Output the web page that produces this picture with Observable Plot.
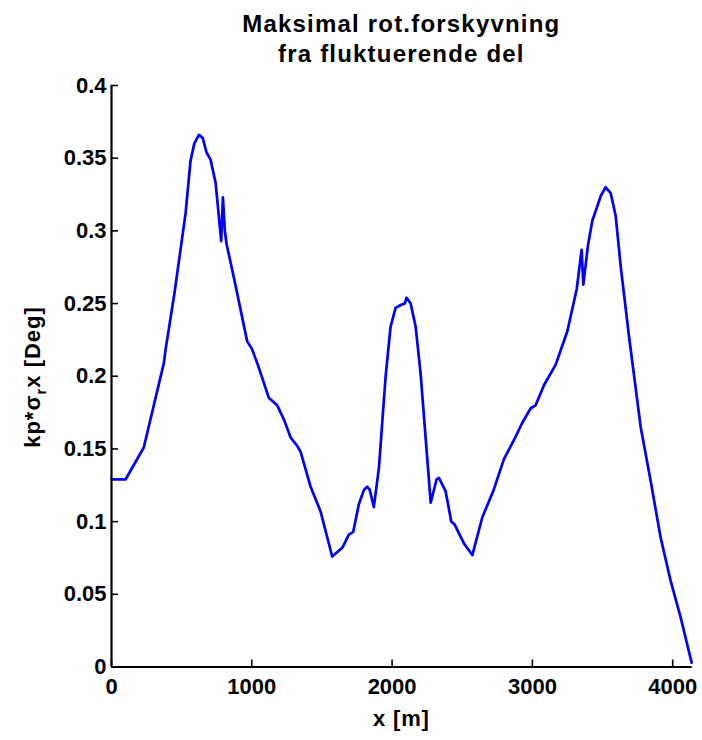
<!DOCTYPE html>
<html>
<head>
<meta charset="utf-8">
<script src="https://cdn.jsdelivr.net/npm/d3@7"></script>
<script src="https://cdn.jsdelivr.net/npm/@observablehq/plot@0.6"></script>
<style>
  html, body { margin: 0; padding: 0; background: #fff; }
  svg { display: block; }
</style>
</head>
<body>
<div id="chart"></div>
<script>
const titleLines = ["Maksimal rot.forskyvning", "fra fluktuerende del"];
const xLabel = "x [m]";
const xTicks = [0, 1000, 2000, 3000, 4000];
const yTicks = [0, 0.05, 0.1, 0.15, 0.2, 0.25, 0.3, 0.35, 0.4];

const xs = [0, 100, 230, 373, 385, 450, 528, 563, 590, 623, 650, 677, 706, 742, 782, 794, 808, 820, 872, 967,
  1000, 1039, 1122, 1181, 1230, 1276, 1324, 1348, 1419, 1490, 1573, 1645, 1692, 1723, 1763, 1800, 1823, 1840, 1870, 1906,
  1954, 1989, 2025, 2061, 2090, 2103, 2132, 2168, 2203, 2246, 2275, 2317, 2334, 2381, 2422, 2446, 2512, 2572, 2643, 2721,
  2797, 2868, 2928, 2988, 3023, 3083, 3166, 3249, 3316, 3351, 3363, 3396, 3427, 3463, 3487, 3522, 3558, 3594, 3629, 3689,
  3772, 3843, 3914, 3986, 4057, 4135];
const ys = [0.129, 0.129, 0.151, 0.209, 0.218, 0.258, 0.312, 0.348, 0.360, 0.366, 0.364, 0.354, 0.349, 0.333, 0.293, 0.323, 0.300, 0.291, 0.268, 0.224,
  0.219, 0.209, 0.185, 0.180, 0.170, 0.158, 0.152, 0.148, 0.124, 0.107, 0.076, 0.082, 0.091, 0.093, 0.112, 0.122, 0.124, 0.122, 0.110, 0.137,
  0.200, 0.234, 0.247, 0.249, 0.250, 0.254, 0.250, 0.234, 0.202, 0.149, 0.113, 0.129, 0.130, 0.121, 0.100, 0.098, 0.085, 0.077, 0.103, 0.121,
  0.143, 0.156, 0.168, 0.178, 0.180, 0.194, 0.208, 0.231, 0.260, 0.287, 0.263, 0.290, 0.307, 0.317, 0.324, 0.330, 0.326, 0.310, 0.276, 0.227,
  0.165, 0.128, 0.089, 0.059, 0.034, 0.003];

const data = xs.map((x, i) => ({x, y: ys[i]}));

const W = 702, H = 740;
const mL = 111, mR = 10.3, mT = 85, mB = 73.5;
const frameW = W - mL - mR, frameH = H - mT - mB;
const tickLen = 7;
const font = "'Liberation Sans', Arial, Helvetica, sans-serif";

const plot = Plot.plot({
  width: W,
  height: H,
  marginLeft: mL,
  marginRight: mR,
  marginTop: mT,
  marginBottom: mB,
  style: {fontFamily: font, fontSize: "22px", fontWeight: "bold", color: "#000", background: "#fff"},
  x: {domain: [0, 4139], label: null},
  y: {domain: [0, 0.4], label: null},
  marks: [
    Plot.axisX(xTicks, {tickSize: 0, tickPadding: 11, tickFormat: d => String(d), fontSize: 22, fontWeight: "bold", label: null}),
    Plot.axisY(yTicks, {tickSize: 0, tickPadding: 5, tickFormat: d => String(+d.toFixed(2)), fontSize: 22, fontWeight: "bold", label: null}),
    Plot.tickX(xTicks, {x: d => d, stroke: "#000", strokeWidth: 1.6, insetTop: frameH - tickLen}),
    Plot.tickY(yTicks, {y: d => d, stroke: "#000", strokeWidth: 1.6, insetRight: frameW - tickLen}),
    Plot.line(data, {x: "x", y: "y", stroke: "#0000ff", strokeWidth: 2.7, curve: "linear", strokeLinejoin: "round"}),
    Plot.ruleX([0], {stroke: "#000", strokeWidth: 2.2}),
    Plot.ruleY([0], {stroke: "#000", strokeWidth: 2.2})
  ]
});

document.getElementById("chart").appendChild(plot);

const svg = d3.select(plot);
const cx = mL + frameW / 2;

const title = svg.append("text")
  .attr("text-anchor", "middle")
  .attr("font-family", font)
  .attr("font-weight", "bold")
  .attr("font-size", 24)
  .attr("letter-spacing", "1.2px")
  .attr("fill", "#000");
title.append("tspan").attr("x", cx).attr("y", 32).text(titleLines[0]);
title.append("tspan").attr("x", cx).attr("y", 62).text(titleLines[1]);

svg.append("text")
  .attr("x", cx).attr("y", 726)
  .attr("text-anchor", "middle")
  .attr("font-family", font)
  .attr("font-weight", "bold")
  .attr("font-size", 22)
  .attr("letter-spacing", "0.8px")
  .attr("fill", "#000")
  .text(xLabel);

const yl = svg.append("text")
  .attr("transform", "translate(40,377) rotate(-90)")
  .attr("text-anchor", "middle")
  .attr("font-family", font)
  .attr("font-weight", "bold")
  .attr("font-size", 22)
  .attr("letter-spacing", "1px")
  .attr("fill", "#000");
yl.append("tspan").text("kp*σ");
yl.append("tspan").attr("font-size", 15).attr("dy", 6).text("r");
yl.append("tspan").attr("dy", -6).text("x [Deg]");
</script>
</body>
</html>
